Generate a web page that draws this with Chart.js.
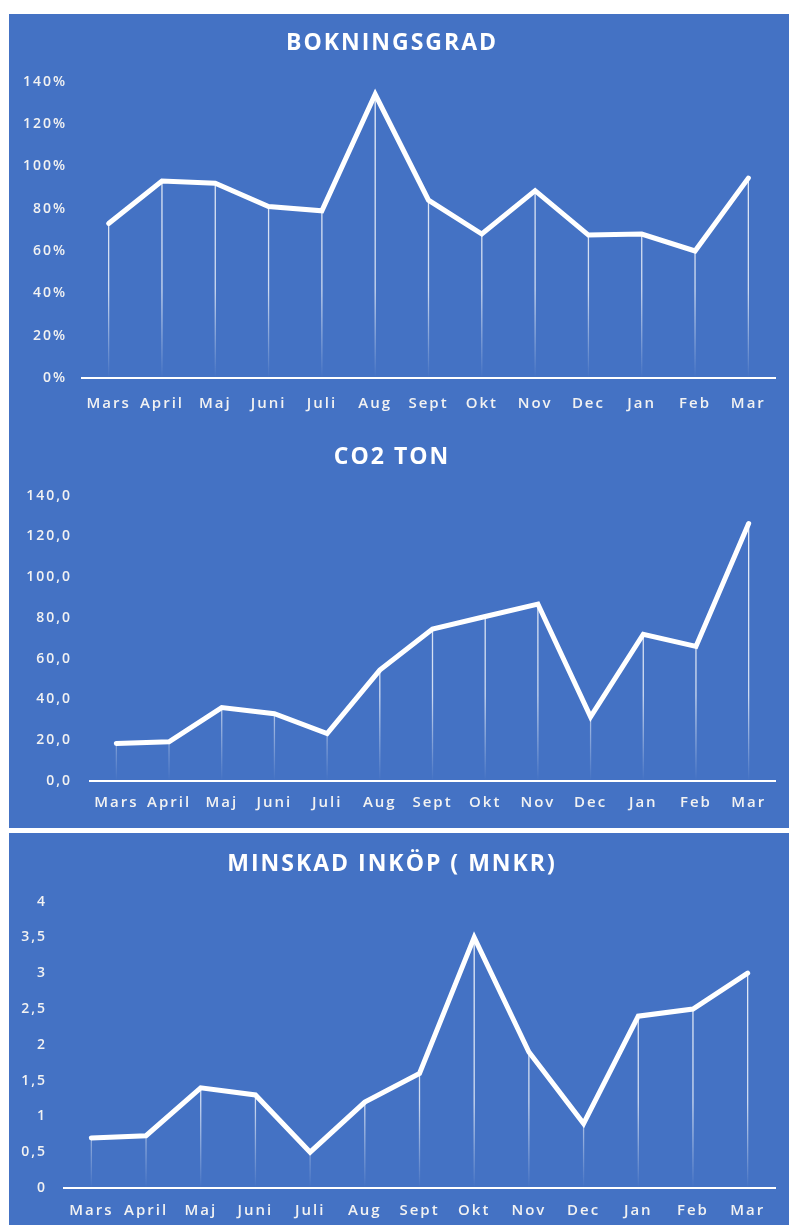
<!DOCTYPE html>
<html>
<head>
<meta charset="utf-8">
<script src="https://cdn.jsdelivr.net/npm/chart.js@4.4.1/dist/chart.umd.min.js"></script>
<style>
  body { margin: 0; background: #fff; width: 789px; height: 1225px; position: relative; overflow: hidden; }
  .panel { position: absolute; left: 9px; width: 780px; background: #4472c4; }
</style>
</head>
<body>
<div class="panel" style="top:14px;height:410px"><canvas id="bokning"></canvas></div>
<div class="panel" style="top:424px;height:404px"><canvas id="co2"></canvas></div>
<div class="panel" style="top:833px;height:392px"><canvas id="inkop"></canvas></div>
<script>
const months = ['Mars', 'April', 'Maj', 'Juni', 'Juli', 'Aug', 'Sept', 'Okt', 'Nov', 'Dec', 'Jan', 'Feb', 'Mar'];

const bokningsgrad = [73, 93, 92, 81, 79, 134, 84, 68, 88.5, 67.5, 68, 60, 94.4];
const co2Ton = [18.4, 19.2, 36, 33, 23.3, 54.4, 74.5, 80.7, 86.8, 31.5, 72, 66, 126.3];
const minskadInkop = [0.7, 0.73, 1.4, 1.3, 0.5, 1.2, 1.6, 3.5, 1.9, 0.9, 2.4, 2.5, 3.0];

const bokningTicks = ['0%', '20%', '40%', '60%', '80%', '100%', '120%', '140%'];
const co2Ticks = ['0,0', '20,0', '40,0', '60,0', '80,0', '100,0', '120,0', '140,0'];
const inkopTicks = ['0', '0,5', '1', '1,5', '2', '2,5', '3', '3,5', '4'];

const FONT = "'Open Sans', sans-serif";
const TEXT = '#f2f2f2';

// thin fading lines from every point down to the axis
const dropLines = {
  id: 'dropLines',
  beforeDatasetsDraw(chart) {
    const ctx = chart.ctx;
    const area = chart.chartArea;
    const g = ctx.createLinearGradient(0, area.top, 0, area.bottom);
    g.addColorStop(0, 'rgba(255,255,255,0.9)');
    g.addColorStop(0.7, 'rgba(255,255,255,0.75)');
    g.addColorStop(1, 'rgba(255,255,255,0)');
    ctx.save();
    ctx.strokeStyle = g;
    ctx.lineWidth = 1.3;
    chart.getDatasetMeta(0).data.forEach(pt => {
      ctx.beginPath();
      ctx.moveTo(pt.x, pt.y);
      ctx.lineTo(pt.x, area.bottom);
      ctx.stroke();
    });
    ctx.restore();
  }
};

const spacing = {
  id: 'spacing',
  beforeLayout(chart) { chart.ctx.letterSpacing = '2px'; },
  beforeDraw(chart) { chart.ctx.letterSpacing = '2px'; }
};

function makeChart(id, title, values, tickLabels, step, g) {
  return new Chart(document.getElementById(id), {
    type: 'line',
    data: {
      labels: months,
      datasets: [{
        data: values,
        borderColor: '#ffffff',
        borderWidth: 5,
        pointRadius: 0,
        tension: 0,
        fill: false,
        borderJoinStyle: 'miter',
        borderCapStyle: 'round'
      }]
    },
    options: {
      responsive: true,
      maintainAspectRatio: false,
      animation: false,
      layout: { padding: { left: 0, right: 14, top: 0, bottom: 0 } },
      plugins: {
        legend: { display: false },
        tooltip: { enabled: false },
        title: {
          display: true,
          text: title,
          color: '#ffffff',
          font: { family: FONT, size: 23, weight: 'bold' },
          padding: { top: g.titleTop, bottom: g.titleBottom }
        }
      },
      scales: {
        x: {
          offset: true,
          afterFit(scale) { scale.height = g.xHeight; },
          grid: { display: false, drawTicks: false },
          border: { display: true, color: '#ffffff', width: 2 },
          ticks: {
            color: TEXT,
            padding: g.xPad,
            maxRotation: 0,
            autoSkip: false,
            font: { family: FONT, size: 15, weight: '600' }
          }
        },
        y: {
          min: 0,
          max: step * (tickLabels.length - 1),
          afterFit(scale) { scale.width = g.left; },
          grid: { display: false, drawTicks: false },
          border: { display: false },
          ticks: {
            stepSize: step,
            color: TEXT,
            padding: g.yPad,
            font: { family: FONT, size: 14, weight: '600' },
            callback: (v, i) => tickLabels[i]
          }
        }
      }
    },
    plugins: [dropLines, spacing]
  });
}

makeChart('bokning', 'BOKNINGSGRAD', bokningsgrad, bokningTicks, 20,
  { left: 73, yPad: 15, titleTop: 16, titleBottom: 24, xPad: 17, xHeight: 46 });
makeChart('co2', 'CO2 TON', co2Ton, co2Ticks, 20,
  { left: 81, yPad: 18, titleTop: 20, titleBottom: 24, xPad: 13, xHeight: 47 });
makeChart('inkop', 'MINSKAD INKÖP ( MNKR)', minskadInkop, inkopTicks, 0.5,
  { left: 55, yPad: 17, titleTop: 18, titleBottom: 23, xPad: 14, xHeight: 37 });
</script>
</body>
</html>
